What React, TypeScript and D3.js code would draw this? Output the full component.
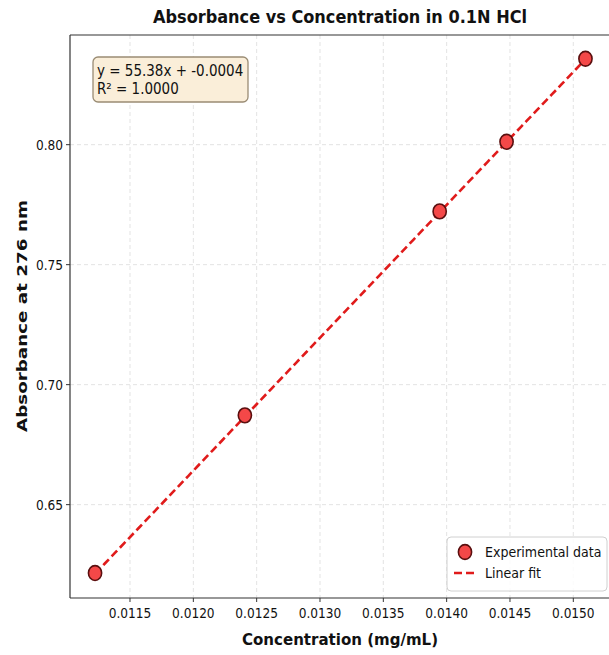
import * as d3 from "d3";

// concentrations (mg/mL) and absorbance at 276 nm
const concentrations = [0.011224, 0.012407, 0.013945, 0.014473, 0.015096];
const absorbances = [0.6215, 0.6872, 0.7722, 0.8012, 0.8358];
const fitSlope = [55.38];
const fitIntercept = [-0.0004];
const xTicks = [0.0115, 0.012, 0.0125, 0.013, 0.0135, 0.014, 0.0145, 0.015];
const yTicks = [0.65, 0.7, 0.75, 0.8];

const W = 609;
const H = 655;
const SX = 0.87; // the picture is a bit narrow
const FONT = "DejaVu Sans, sans-serif";

function SqText({ x, y, size, anchor = "start", weight = "normal", children, len }: any) {
  return (
    <g transform={`translate(${x},${y}) scale(${SX},1)`}>
      <text
        fontFamily={FONT}
        fontSize={size}
        fontWeight={weight}
        textAnchor={anchor}
        fill="#111"
        textLength={len ? len / SX : undefined}
        lengthAdjust={len ? "spacingAndGlyphs" : undefined}
      >
        {children}
      </text>
    </g>
  );
}

export default function App() {
  const left = 70, right = 610, top = 35, bottom = 598;

  const x = d3.scaleLinear().domain([0.0110263, 0.0152897]).range([left, right]);
  const y = d3.scaleLinear().domain([0.6111, 0.8457]).range([bottom, top]);

  const xExt = d3.extent(concentrations) as [number, number];
  const fitPts = d3.range(0, 101).map(i => {
    const c = xExt[0] + (xExt[1] - xExt[0]) * i / 100;
    return [c, fitSlope[0] * c + fitIntercept[0]] as [number, number];
  });
  const line = d3.line<[number, number]>().x(d => x(d[0])).y(d => y(d[1]));

  const fx = d3.format(".4f");
  const fy = d3.format(".2f");

  return (
    <svg width={W} height={H} style={{ position: "absolute", left: 0, top: 0, background: "#fff" }}>
      <rect width={W} height={H} fill="#fff" />
      <defs>
        <clipPath id="plot">
          <rect x={left} y={top} width={right - left} height={bottom - top} />
        </clipPath>
      </defs>

      {/* grid */}
      <g stroke="#dcdcdc" strokeWidth={0.8} strokeDasharray="4,3">
        {xTicks.map(t => <line key={"gx" + t} x1={x(t)} x2={x(t)} y1={top} y2={bottom} />)}
        {yTicks.map(t => <line key={"gy" + t} x1={left} x2={right} y1={y(t)} y2={y(t)} />)}
      </g>

      {/* fit line */}
      <path d={line(fitPts) || ""} fill="none" stroke="#e01b1b" strokeWidth={2.6}
        strokeDasharray="8,4" clipPath="url(#plot)" />

      {/* points */}
      {concentrations.map((c, i) => (
        <ellipse key={i} cx={x(c)} cy={y(absorbances[i])} rx={6.6} ry={7.4}
          fill="#f44848" stroke="#5a0f0f" strokeWidth={1.6} />
      ))}

      {/* spines */}
      <g stroke="#333" strokeWidth={1.2} fill="none">
        <line x1={left} x2={left} y1={top} y2={bottom} />
        <line x1={left} x2={right} y1={bottom} y2={bottom} />
        <line x1={left} x2={right} y1={top} y2={top} />
      </g>

      {/* x axis */}
      {xTicks.map(t => (
        <g key={"xt" + t}>
          <line x1={x(t)} x2={x(t)} y1={bottom} y2={bottom + 4} stroke="#333" strokeWidth={1} />
          <SqText x={x(t)} y={bottom + 20} size={14} anchor="middle">{fx(t)}</SqText>
        </g>
      ))}
      {/* y axis */}
      {yTicks.map(t => (
        <g key={"yt" + t}>
          <line x1={left - 4} x2={left} y1={y(t)} y2={y(t)} stroke="#333" strokeWidth={1} />
          <SqText x={left - 7} y={y(t) + 5} size={14} anchor="end">{fy(t)}</SqText>
        </g>
      ))}

      {/* title and labels */}
      <SqText x={340} y={23} size={17.5} anchor="middle" weight="bold" len={374}>
        Absorbance vs Concentration in 0.1N HCl
      </SqText>
      <SqText x={340} y={645} size={16.5} anchor="middle" weight="bold" len={196}>
        Concentration (mg/mL)
      </SqText>
      <g transform={`translate(27,316) rotate(-90)`}>
        <text fontFamily={FONT} fontSize={17} fontWeight="bold" textAnchor="middle" fill="#111"
          textLength={232} lengthAdjust="spacingAndGlyphs"
          transform={`scale(1,${SX})`}>
          Absorbance at 276 nm
        </text>
      </g>

      {/* equation box */}
      <rect x={93} y={57} width={155} height={45} rx={5} fill="#faeed9" stroke="#9a8c74" strokeWidth={1.3} />
      <SqText x={97} y={76} size={15.5}>
        {`y = ${fitSlope[0].toFixed(2)}x + ${fitIntercept[0].toFixed(4)}`}
      </SqText>
      <SqText x={97} y={94} size={15.5}>R² = 1.0000</SqText>

      {/* legend */}
      <rect x={447} y={537} width={160} height={54} rx={4} fill="#fff" fillOpacity={0.85} stroke="#d0d0d0" strokeWidth={1} />
      <ellipse cx={465} cy={552} rx={6.6} ry={7.4} fill="#f44848" stroke="#5a0f0f" strokeWidth={1.6} />
      <line x1={454} x2={477} y1={573} y2={573} stroke="#e01b1b" strokeWidth={2.6} strokeDasharray="8,4" />
      <SqText x={485} y={557} size={14.5}>Experimental data</SqText>
      <SqText x={485} y={578} size={14.5}>Linear fit</SqText>
    </svg>
  );
}
